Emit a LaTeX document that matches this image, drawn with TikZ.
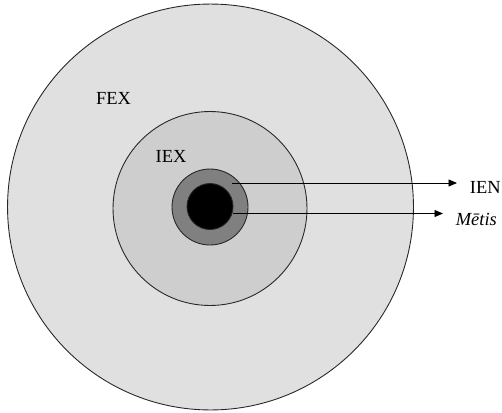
\documentclass[tikz,border=0pt]{standalone}
\usepackage{fontspec}
\setmainfont{Liberation Serif}
\usepackage{tikz}
\usetikzlibrary{arrows.meta, positioning}
\definecolor{fexgray}{RGB}{224, 224, 224}
\definecolor{iexgray}{RGB}{206, 206, 206}
\definecolor{iengray}{RGB}{128, 128, 128}
\tikzset{
  >=Stealth,
  pointarrow/.style={-{Triangle[length=1.7mm, width=1.4mm]}, line width=0.5pt, black},
  zone/.style={circle, draw=black!85, line width=0.5pt, inner sep=0pt},
  zonelabel/.style={font=\fontsize{10.5}{12}\selectfont, inner sep=0pt},
  sidelabel/.style={font=\fontsize{10.5}{12}\selectfont, inner ysep=0pt, inner xsep=0.25cm, text depth=0pt, anchor=base west}
}
\begin{document}
\begin{tikzpicture}[x=0.02cm, y=-0.02cm]
    \useasboundingbox (0,0) rectangle (502,412);

    % concentric zones, outermost first
    \node[zone, fill=fexgray, minimum size=8.12cm] (fex) at (210.5,207) {};
    \node[zone, fill=iexgray, minimum size=3.88cm] (iex) at (210,208.5) {};
    \node[zone, fill=iengray, minimum size=1.52cm] (ien) at (210,207) {};
    \node[zone, fill=black, minimum size=0.92cm] (metis) at (210,206.5) {};

    % zone names
    \node[zonelabel] (fexname) at (113.5,98) {FEX};
    \node[zonelabel] (iexname) at (171,156.5) {IEX};

    % side labels and pointers
    \node[sidelabel] (ienname) at (457,193) {IEN};
    \node[sidelabel] (metisname) at (443,225) {\textit{Mētis}};

    \coordinate (ienstart) at (232,183);
    \coordinate (metisstart) at (233,213.5);
    \draw[pointarrow] (ienstart) -- (ienstart -| ienname.west);
    \draw[pointarrow] (metisstart) -- (metisstart -| metisname.west);
\end{tikzpicture}
\end{document}
